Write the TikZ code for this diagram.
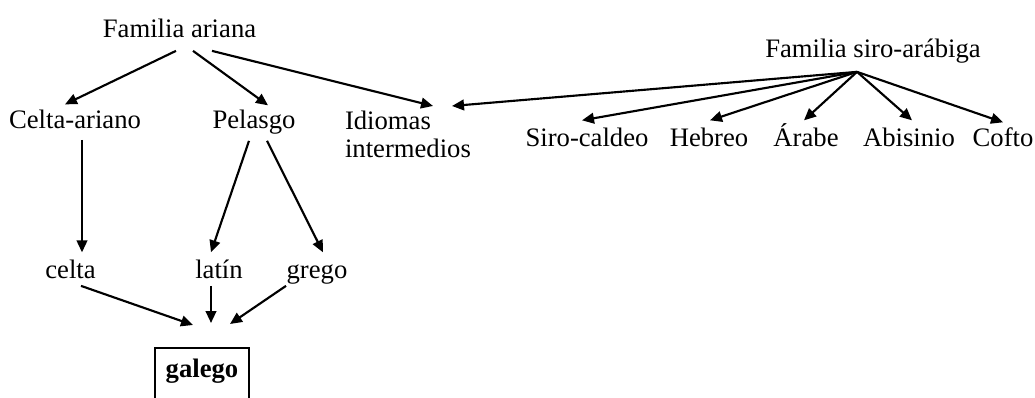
\documentclass[tikz,border=0pt]{standalone}
\usepackage{fontspec}
\setmainfont{Liberation Serif}
\usetikzlibrary{arrows.meta,calc}

\begin{document}
\begin{tikzpicture}[x=0.375pt,y=-0.375pt,
    word/.style={inner sep=0pt,outer sep=0pt,font=\fontsize{10}{10.5}\selectfont},
    lang/.style={word,text height=7pt,text depth=2.2pt,anchor=base},
    arr/.style={line width=0.8pt,-{Triangle[length=4.5pt,width=4pt]}}]
  \useasboundingbox (0,0) rectangle (1035,398);

  \node[lang] (ariana) at (179.5,38) {Familia ariana};
  \node[lang] (celtaar) at (75,129) {Celta-ariano};
  \node[lang] (pelasgo) at (254,129) {Pelasgo};
  \node[word,align=left,anchor=north west] (idiomas) at (345,111) {Idiomas\\intermedios};

  \node[lang] (siro) at (873,58) {Familia siro-arábiga};
  \coordinate (siroroot) at ($(siro.south)+(-16,8)$);
  \node[lang] (caldeo) at (587,147) {Siro-caldeo};
  \node[lang] (hebreo) at (709,147) {Hebreo};
  \node[lang] (arabe) at (806,147) {Árabe};
  \node[lang] (abisinio) at (909,147) {Abisinio};
  \node[lang] (cofto) at (1003,147) {Cofto};

  \node[lang] (celta) at (70.5,278) {celta};
  \node[lang] (latin) at (219,278) {latín};
  \node[lang] (grego) at (317,278) {grego};
  \node[word,draw,line width=0.8pt,anchor=north,minimum width=35.25pt,inner ysep=3.9pt,
        text height=7pt,text depth=20pt] (galego) at (202,348) {\bfseries galego};

  \draw[arr] ($(ariana.south)+(-3.5,7)$) -- ($(celtaar.north)+(-10,-6)$);
  \draw[arr] ($(ariana.south)+(13.5,7)$) -- ($(pelasgo.north)+(14,-5)$);
  \draw[arr] ($(ariana.south)+(32.5,7)$) -- ($(idiomas.north west)+(88,-5)$);

  \draw[arr] (siroroot) -- ($(idiomas.north west)+(107,-5)$);
  \draw[arr] (siroroot) -- ($(caldeo.north)+(-5,-8)$);
  \draw[arr] (siroroot) -- ($(hebreo.north)+(1,-8)$);
  \draw[arr] (siroroot) -- ($(arabe.north)+(-2,-8)$);
  \draw[arr] (siroroot) -- ($(abisinio.north)+(3,-8)$);
  \draw[arr] (siroroot) -- ($(cofto.north)+(0,-6)$);

  \draw[arr] ($(celtaar.south)+(7,5)$) -- ($(celta.north)+(11.5,-7)$);
  \draw[arr] ($(pelasgo.south)+(-5,6)$) -- ($(latin.north)+(-8,-7)$);
  \draw[arr] ($(pelasgo.south)+(13,6)$) -- ($(grego.north)+(6,-7)$);

  \draw[arr] ($(celta.south)+(10.5,2)$) -- ($(galego.north)+(-9,-23)$);
  \draw[arr] ($(latin.south)+(-8,2)$) -- ($(galego.north)+(9,-25)$);
  \draw[arr] ($(grego.south)+(-31,2)$) -- ($(galego.north)+(28,-24)$);
\end{tikzpicture}
\end{document}
